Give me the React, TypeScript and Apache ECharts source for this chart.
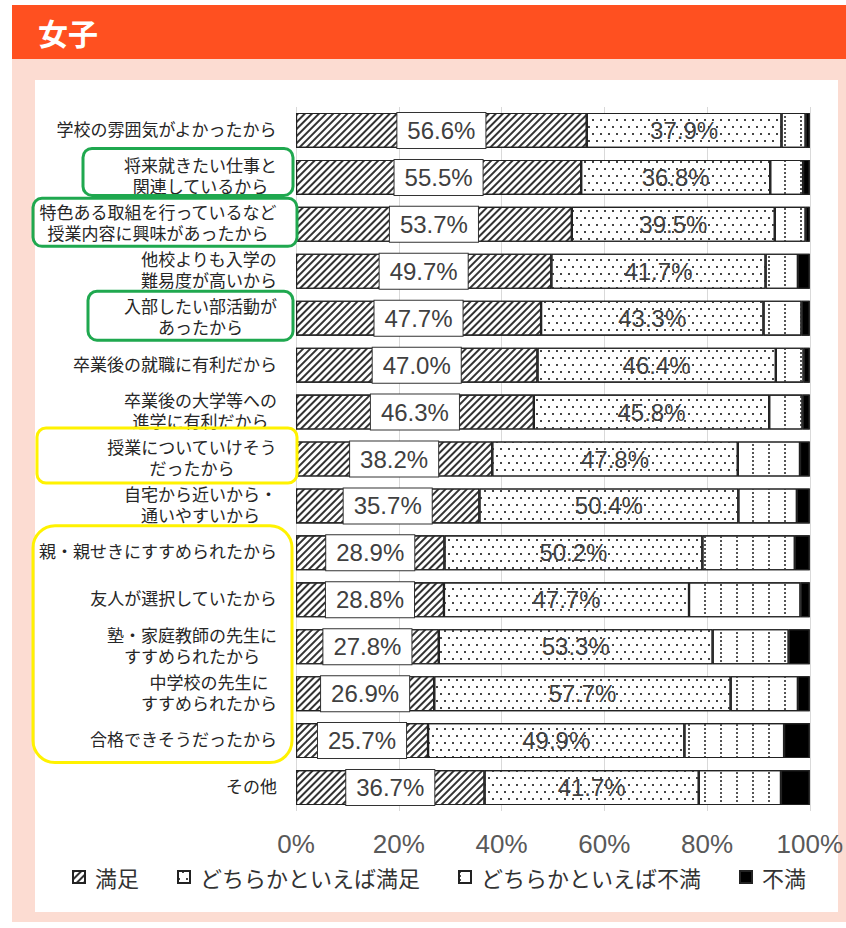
import React, { useEffect, useRef } from 'react';
import * as echarts from 'echarts';

const categories = [
  '学校の雰囲気がよかったから',
  '将来就きたい仕事と\n関連しているから',
  '特色ある取組を行っているなど\n授業内容に興味があったから',
  '他校よりも入学の\n難易度が高いから',
  '入部したい部活動が\nあったから',
  '卒業後の就職に有利だから',
  '卒業後の大学等への\n進学に有利だから',
  '授業についていけそう\nだったから',
  '自宅から近いから・\n通いやすいから',
  '親・親せきにすすめられたから',
  '友人が選択していたから',
  '塾・家庭教師の先生に\nすすめられたから',
  '中学校の先生に\nすすめられたから',
  '合格できそうだったから',
  'その他',
];

const seriesNames = ['満足', 'どちらかといえば満足', 'どちらかといえば不満', '不満'];

const satisfied = [56.6, 55.5, 53.7, 49.7, 47.7, 47.0, 46.3, 38.2, 35.7, 28.9, 28.8, 27.8, 26.9, 25.7, 36.7];
const somewhatSatisfied = [37.9, 36.8, 39.5, 41.7, 43.3, 46.4, 45.8, 47.8, 50.4, 50.2, 47.7, 53.3, 57.7, 49.9, 41.7];
const somewhatDissatisfied = [4.7, 6.4, 6.0, 6.3, 7.4, 5.4, 6.5, 12.1, 11.4, 18.0, 21.7, 14.8, 13.1, 19.4, 16.0];
const dissatisfied = [0.8, 1.3, 0.8, 2.3, 1.6, 1.2, 1.4, 1.9, 2.5, 2.9, 1.8, 4.1, 2.3, 5.0, 5.6];

const xTicks = [0, 20, 40, 60, 80, 100];

// highlight boxes around category labels (row range, horizontal extent, offsets)
const highlights = [
  { from: 1, to: 1, x0: 83, x1: 293, top: 29, bottom: 18, color: '#1fa84f', r: 9 },
  { from: 2, to: 2, x0: 33, x1: 297, top: 26, bottom: 22, color: '#1fa84f', r: 9 },
  { from: 4, to: 4, x0: 88, x1: 293, top: 27, bottom: 22, color: '#1fa84f', r: 9 },
  { from: 7, to: 7, x0: 37, x1: 297, top: 31, bottom: 24, color: '#fff200', r: 9 },
  { from: 9, to: 13, x0: 33, x1: 292, top: 27, bottom: 22, color: '#fff200', r: 22 },
];

const numFont = '"Liberation Sans", Arial, sans-serif';
const jpFont = '"Noto Sans CJK JP", sans-serif';

export default function App() {
  const ref = useRef<HTMLDivElement>(null);

  useEffect(() => {
    if (!ref.current) return;
    const chart = echarts.init(ref.current, undefined, { renderer: 'svg' });
    const pct = (p: any) => Number(p.value).toFixed(1) + '%';
    const barBorder = { borderColor: '#222', borderWidth: 1.1 };
    const decalBase = {
      symbol: 'rect',
      symbolSize: 1,
      symbolKeepAspect: true,
      backgroundColor: null,
      rotation: 0,
      maxTileWidth: 512,
      maxTileHeight: 512,
    };
    chart.setOption({
      animation: false,
      aria: { enabled: true, decal: { show: true } },
      grid: { left: 296, top: 107, width: 514, height: 704, containLabel: false },
      legend: {
        data: seriesNames,
        left: 72,
        top: 866,
        itemWidth: 12,
        itemHeight: 12,
        itemGap: 38,
        padding: 0,
        icon: 'rect',
        textStyle: { fontSize: 22, color: '#333', fontFamily: jpFont, padding: [0, 0, 0, 5] },
      },
      xAxis: {
        type: 'value',
        min: 0,
        max: 100,
        interval: 20,
        axisLine: { show: false },
        axisTick: { show: false },
        splitLine: { show: true, lineStyle: { color: '#d9d9d9', width: 1 } },
        axisLabel: {
          formatter: (v: number) => (xTicks.includes(v) ? v + '%' : ''),
          fontSize: 26,
          color: '#595959',
          fontFamily: numFont,
          margin: 20,
        },
      },
      yAxis: {
        type: 'category',
        data: categories,
        inverse: true,
        axisLine: { show: false },
        axisTick: { show: false },
        axisLabel: {
          margin: 19,
          fontSize: 17,
          lineHeight: 21,
          padding: [0, 0, 4, 0],
          formatter: (v: string) => v.split('\n').map((s) => `{c|${s}}`).join('\n'),
          rich: {
            c: { align: 'center', fontSize: 17, lineHeight: 21, color: '#262626', fontFamily: jpFont },
          },
        },
      },
      series: [
        {
          name: seriesNames[0],
          type: 'bar',
          stack: 'total',
          barWidth: 35,
          data: satisfied,
          itemStyle: {
            color: '#ffffff',
            ...barBorder,
            decal: {
              ...decalBase,
              color: '#333',
              dashArrayX: [1, 0],
              dashArrayY: [1.3, 2.2],
              rotation: -Math.PI / 4,
            },
          },
          label: {
            show: true,
            position: 'inside',
            formatter: pct,
            fontSize: 24,
            lineHeight: 26,
            color: '#404040',
            fontFamily: numFont,
            backgroundColor: '#ffffff',
            borderColor: '#333',
            borderWidth: 1,
            padding: [5, 10, 4, 10],
          },
        },
        {
          name: seriesNames[1],
          type: 'bar',
          stack: 'total',
          barWidth: 35,
          data: somewhatSatisfied,
          itemStyle: {
            color: '#ffffff',
            ...barBorder,
            decal: {
              ...decalBase,
              color: '#444',
              dashArrayX: [[1.5, 5.5], [0, 3.5, 1.5, 2]],
              dashArrayY: [1.5, 4.5],
            },
          },
          label: {
            show: true,
            position: 'inside',
            formatter: pct,
            fontSize: 24,
            color: '#404040',
            fontFamily: numFont,
          },
        },
        {
          name: seriesNames[2],
          type: 'bar',
          stack: 'total',
          barWidth: 35,
          data: somewhatDissatisfied,
          itemStyle: {
            color: '#ffffff',
            ...barBorder,
            decal: {
              ...decalBase,
              color: '#555',
              dashArrayX: [1.5, 13.5],
              dashArrayY: [1.5, 1.5],
            },
          },
        },
        {
          name: seriesNames[3],
          type: 'bar',
          stack: 'total',
          barWidth: 35,
          data: dissatisfied,
          itemStyle: { color: '#000000', ...barBorder, decal: { symbol: 'none' } },
        },
      ],
    });

    const boxes = highlights.map((h) => {
      const yTop = (chart.convertToPixel({ yAxisIndex: 0 }, h.from) as number) - h.top;
      const yBot = (chart.convertToPixel({ yAxisIndex: 0 }, h.to) as number) + h.bottom;
      return {
        type: 'rect',
        z: 20,
        shape: { x: h.x0, y: yTop, width: h.x1 - h.x0, height: yBot - yTop, r: h.r },
        style: { fill: 'none', stroke: h.color, lineWidth: 3 },
      };
    });
    chart.setOption({ graphic: boxes });

    return () => chart.dispose();
  }, []);

  return (
    <div style={{ position: 'fixed', left: 0, top: 0, width: 846, height: 928, background: '#ffffff' }}>
      <div style={{ position: 'absolute', left: 12, top: 5, width: 834, height: 54, background: '#ff5020' }}>
        <div
          style={{
            position: 'absolute',
            left: 26,
            top: 8,
            color: '#ffffff',
            fontSize: 30,
            fontWeight: 'bold',
            fontFamily: jpFont,
            lineHeight: '38px',
          }}
        >
          女子
        </div>
      </div>
      <div style={{ position: 'absolute', left: 12, top: 59, width: 834, height: 863, background: '#fcdcd2' }} />
      <div style={{ position: 'absolute', left: 35, top: 80, width: 803, height: 832, background: '#ffffff' }} />
      <div ref={ref} style={{ position: 'absolute', left: 0, top: 0, width: 846, height: 928 }} />
    </div>
  );
}
